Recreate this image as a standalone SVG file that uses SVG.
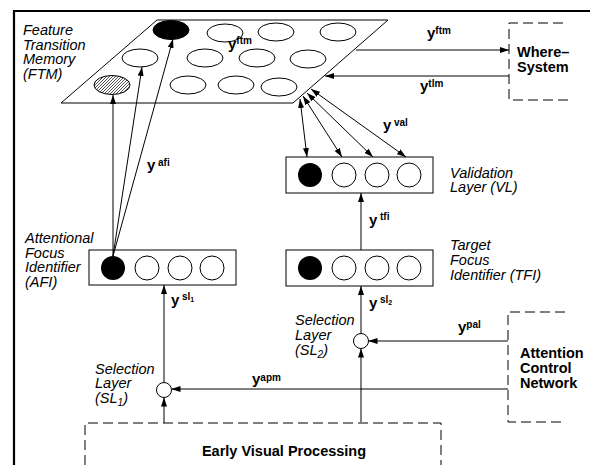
<svg xmlns="http://www.w3.org/2000/svg" width="590" height="465" viewBox="0 0 590 465">
<style>
.ln{stroke:#000;stroke-width:1;fill:none}
.dash{stroke:#000;stroke-width:1;fill:none;stroke-dasharray:10,5}
.el{fill:#fff;stroke:#000;stroke-width:1}
.it{font-family:"Liberation Sans",Arial,sans-serif;font-style:italic;font-size:14.5px;fill:#000}
.bd{font-family:"Liberation Sans",Arial,sans-serif;font-weight:bold;font-size:14.5px;fill:#000}
.y{font-family:"Liberation Sans",Arial,sans-serif;font-weight:bold;font-size:15px;fill:#000}
.sup{font-size:10px}
.sub{font-size:7px}
.box{fill:#fff;stroke:#000;stroke-width:1}
</style>
<defs>
<marker id="ah" viewBox="0 0 9 6" refX="9" refY="3" markerWidth="9" markerHeight="6" markerUnits="userSpaceOnUse" orient="auto-start-reverse">
<path d="M0,0 L9,3 L0,6 z" fill="#000"/>
</marker>
<pattern id="hatch" patternUnits="userSpaceOnUse" width="3" height="3">
<path d="M-1,1 L1,-1 M0,3 L3,0 M2,4 L4,2" stroke="#000" stroke-width="0.7"/>
</pattern>
</defs>
<path d="M14,465 V11 H590" fill="none" stroke="#000" stroke-width="2.2"/>

<g id="ftm">
<polygon points="157,20 388,20 293,103 61,103" class="ln"/>
<ellipse cx="171" cy="30" rx="18" ry="9.5" fill="#000" stroke="#000"/>
<ellipse cx="225" cy="33" rx="18" ry="9" class="el"/>
<ellipse cx="276" cy="32" rx="18" ry="9" class="el"/>
<ellipse cx="338" cy="32" rx="18" ry="9" class="el"/>
<ellipse cx="140" cy="58" rx="18" ry="9" class="el"/>
<ellipse cx="205" cy="58" rx="18" ry="9" class="el"/>
<ellipse cx="257" cy="58" rx="18" ry="9" class="el"/>
<ellipse cx="308" cy="59" rx="18" ry="9" class="el"/>
<ellipse cx="112" cy="85" rx="18" ry="9.5" fill="url(#hatch)" stroke="#000"/>
<ellipse cx="188" cy="85" rx="18" ry="9" class="el"/>
<ellipse cx="236" cy="85" rx="18" ry="9" class="el"/>
<ellipse cx="279" cy="87" rx="18" ry="9" class="el"/>
<text class="y" x="228" y="49">y<tspan class="sup" dy="-5">ftm</tspan></text>
<text class="it"><tspan x="23" y="35">Feature</tspan><tspan x="23" y="50">Transition</tspan><tspan x="23" y="64">Memory</tspan><tspan x="23" y="79">(FTM)</tspan></text>
</g>

<g id="where">
<path d="M563,23 H509 V100 H568" class="dash"/>
<text class="bd"><tspan x="517" y="57">Where–</tspan><tspan x="517" y="72">System</tspan></text>
</g>

<g id="vl">
<rect x="286" y="157" width="147" height="36" class="box"/>
<circle cx="310" cy="175" r="12" fill="#000"/>
<circle cx="344" cy="175" r="12" class="el"/>
<circle cx="377" cy="175" r="12" class="el"/>
<circle cx="409" cy="175" r="12" class="el"/>
<text class="it"><tspan x="450" y="178">Validation</tspan><tspan x="450" y="192">Layer (VL)</tspan></text>
</g>

<g id="afi">
<rect x="89" y="250" width="147" height="35" class="box"/>
<circle cx="113" cy="268" r="12" fill="#000"/>
<circle cx="147" cy="268" r="12" class="el"/>
<circle cx="180" cy="268" r="12" class="el"/>
<circle cx="212" cy="268" r="12" class="el"/>
<text class="it"><tspan x="25" y="243">Attentional</tspan><tspan x="25" y="258">Focus</tspan><tspan x="25" y="272">Identifier</tspan><tspan x="25" y="287">(AFI)</tspan></text>
</g>

<g id="tfi">
<rect x="286" y="250" width="147" height="36" class="box"/>
<circle cx="310" cy="268" r="12" fill="#000"/>
<circle cx="344" cy="268" r="12" class="el"/>
<circle cx="377" cy="268" r="12" class="el"/>
<circle cx="409" cy="268" r="12" class="el"/>
<text class="it"><tspan x="450" y="250">Target</tspan><tspan x="450" y="265">Focus</tspan><tspan x="450" y="280">Identifier (TFI)</tspan></text>
</g>

<g id="sl1">
<circle cx="164" cy="390" r="7.5" class="el"/>
<text class="it"><tspan x="95" y="374">Selection</tspan><tspan x="95" y="388">Layer</tspan><tspan x="95" y="403">(SL</tspan><tspan class="sub" style="font-size:10px" dy="3">1</tspan><tspan dy="-3">)</tspan></text>
</g>

<g id="sl2">
<circle cx="361" cy="341" r="7.5" class="el"/>
<text class="it"><tspan x="295" y="325">Selection</tspan><tspan x="295" y="340">Layer</tspan><tspan x="295" y="355">(SL</tspan><tspan style="font-size:10px" dy="3">2</tspan><tspan dy="-3">)</tspan></text>
</g>

<g id="acn">
<path d="M565,312 H508 V422 H565" class="dash"/>
<text class="bd"><tspan x="520" y="358">Attention</tspan><tspan x="520" y="373">Control</tspan><tspan x="520" y="388">Network</tspan></text>
</g>

<g id="evp">
<path d="M85,465 V423 H441 V465" class="dash"/>
<text class="bd" x="284" y="456" text-anchor="middle">Early Visual Processing</text>
</g>

<g id="connectors">
<line x1="356" y1="50" x2="509" y2="50" class="ln" marker-end="url(#ah)"/>
<text class="y" x="427" y="38">y<tspan class="sup" dy="-4">ftm</tspan></text>
<line x1="509" y1="76" x2="325" y2="76" class="ln" marker-end="url(#ah)"/>
<text class="y" x="420" y="91">y<tspan class="sup" dy="-4">tlm</tspan></text>

<line x1="300" y1="99" x2="307" y2="157" class="ln" marker-start="url(#ah)" marker-end="url(#ah)"/>
<line x1="303" y1="96" x2="342" y2="157" class="ln" marker-start="url(#ah)" marker-end="url(#ah)"/>
<line x1="307" y1="93" x2="373" y2="157" class="ln" marker-start="url(#ah)" marker-end="url(#ah)"/>
<line x1="311" y1="89" x2="406" y2="157" class="ln" marker-start="url(#ah)" marker-end="url(#ah)"/>
<text class="y" x="383" y="130">y<tspan class="sup" x="394" dy="-4">val</tspan></text>

<line x1="113" y1="256" x2="113" y2="95" class="ln" marker-end="url(#ah)"/>
<line x1="113" y1="256" x2="142" y2="67" class="ln" marker-end="url(#ah)"/>
<line x1="113" y1="256" x2="173" y2="39" class="ln" marker-end="url(#ah)"/>
<text class="y" x="147" y="170">y<tspan class="sup" x="158" dy="-4">afi</tspan></text>

<line x1="361" y1="250" x2="361" y2="193" class="ln" marker-end="url(#ah)"/>
<text class="y" x="369" y="225">y<tspan class="sup" x="380" dy="-5">tfi</tspan></text>

<line x1="361" y1="333.5" x2="361" y2="286" class="ln" marker-end="url(#ah)"/>
<text class="y" x="369" y="308">y<tspan class="sup" x="380" dy="-5">sl</tspan><tspan class="sub" dy="2">2</tspan></text>

<line x1="164" y1="382.5" x2="164" y2="285" class="ln" marker-end="url(#ah)"/>
<text class="y" x="171" y="305">y<tspan class="sup" x="182" dy="-5">sl</tspan><tspan class="sub" dy="2">1</tspan></text>

<line x1="164" y1="423" x2="164" y2="397.5" class="ln" marker-end="url(#ah)"/>
<line x1="361" y1="422" x2="361" y2="348.5" class="ln" marker-end="url(#ah)"/>

<line x1="508" y1="389" x2="171.5" y2="389" class="ln" marker-end="url(#ah)"/>
<text class="y" x="252" y="384">y<tspan class="sup" dy="-3">apm</tspan></text>
<line x1="508" y1="341" x2="368.5" y2="341" class="ln" marker-end="url(#ah)"/>
<text class="y" x="458" y="332">y<tspan class="sup" dy="-4">pal</tspan></text>
</g>
</svg>
